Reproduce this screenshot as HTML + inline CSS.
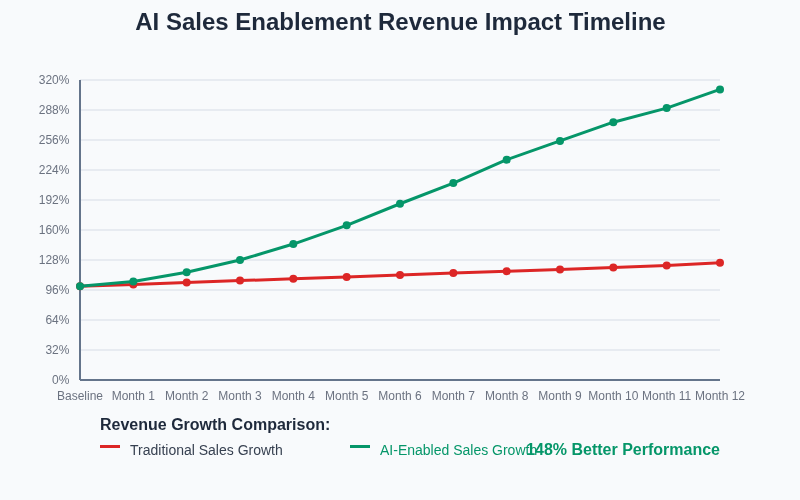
<!DOCTYPE html>
<html><head><meta charset="utf-8"><title>AI Sales Enablement Revenue Impact Timeline</title>
<style>
html,body{margin:0;padding:0;background:#f8fafc;}
svg{display:block;font-family:"Liberation Sans",sans-serif;}
</style></head><body>
<svg width="800" height="500" viewBox="0 0 800 500">
<rect width="800" height="500" fill="#f8fafc"/>
<text x="400.5" y="30" text-anchor="middle" font-size="24" font-weight="bold" fill="#1e293b">AI Sales Enablement Revenue Impact Timeline</text>

<text x="69.45" y="384" text-anchor="end" font-size="12" fill="#6b7280">0%</text>
<line x1="80" y1="350" x2="720" y2="350" stroke="#e7ebf1" stroke-width="2"/>
<text x="69.45" y="354" text-anchor="end" font-size="12" fill="#6b7280">32%</text>
<line x1="80" y1="320" x2="720" y2="320" stroke="#e7ebf1" stroke-width="2"/>
<text x="69.45" y="324" text-anchor="end" font-size="12" fill="#6b7280">64%</text>
<line x1="80" y1="290" x2="720" y2="290" stroke="#e7ebf1" stroke-width="2"/>
<text x="69.45" y="294" text-anchor="end" font-size="12" fill="#6b7280">96%</text>
<line x1="80" y1="260" x2="720" y2="260" stroke="#e7ebf1" stroke-width="2"/>
<text x="69.45" y="264" text-anchor="end" font-size="12" fill="#6b7280">128%</text>
<line x1="80" y1="230" x2="720" y2="230" stroke="#e7ebf1" stroke-width="2"/>
<text x="69.45" y="234" text-anchor="end" font-size="12" fill="#6b7280">160%</text>
<line x1="80" y1="200" x2="720" y2="200" stroke="#e7ebf1" stroke-width="2"/>
<text x="69.45" y="204" text-anchor="end" font-size="12" fill="#6b7280">192%</text>
<line x1="80" y1="170" x2="720" y2="170" stroke="#e7ebf1" stroke-width="2"/>
<text x="69.45" y="174" text-anchor="end" font-size="12" fill="#6b7280">224%</text>
<line x1="80" y1="140" x2="720" y2="140" stroke="#e7ebf1" stroke-width="2"/>
<text x="69.45" y="144" text-anchor="end" font-size="12" fill="#6b7280">256%</text>
<line x1="80" y1="110" x2="720" y2="110" stroke="#e7ebf1" stroke-width="2"/>
<text x="69.45" y="114" text-anchor="end" font-size="12" fill="#6b7280">288%</text>
<line x1="80" y1="80" x2="720" y2="80" stroke="#e7ebf1" stroke-width="2"/>
<text x="69.45" y="84" text-anchor="end" font-size="12" fill="#6b7280">320%</text>
<line x1="80" y1="380" x2="720" y2="380" stroke="#64748b" stroke-width="2"/>
<line x1="80" y1="80" x2="80" y2="380" stroke="#64748b" stroke-width="2"/>
<text x="80.00" y="400" text-anchor="middle" font-size="12" fill="#6b7280">Baseline</text>
<text x="133.33" y="400" text-anchor="middle" font-size="12" fill="#6b7280">Month 1</text>
<text x="186.67" y="400" text-anchor="middle" font-size="12" fill="#6b7280">Month 2</text>
<text x="240.00" y="400" text-anchor="middle" font-size="12" fill="#6b7280">Month 3</text>
<text x="293.33" y="400" text-anchor="middle" font-size="12" fill="#6b7280">Month 4</text>
<text x="346.67" y="400" text-anchor="middle" font-size="12" fill="#6b7280">Month 5</text>
<text x="400.00" y="400" text-anchor="middle" font-size="12" fill="#6b7280">Month 6</text>
<text x="453.33" y="400" text-anchor="middle" font-size="12" fill="#6b7280">Month 7</text>
<text x="506.67" y="400" text-anchor="middle" font-size="12" fill="#6b7280">Month 8</text>
<text x="560.00" y="400" text-anchor="middle" font-size="12" fill="#6b7280">Month 9</text>
<text x="613.33" y="400" text-anchor="middle" font-size="12" fill="#6b7280">Month 10</text>
<text x="666.67" y="400" text-anchor="middle" font-size="12" fill="#6b7280">Month 11</text>
<text x="720.00" y="400" text-anchor="middle" font-size="12" fill="#6b7280">Month 12</text>
<polyline points="80.00,286.25 133.33,284.38 186.67,282.50 240.00,280.62 293.33,278.75 346.67,276.88 400.00,275.00 453.33,273.12 506.67,271.25 560.00,269.38 613.33,267.50 666.67,265.62 720.00,262.81" fill="none" stroke="#dc2626" stroke-width="3" stroke-linejoin="round" stroke-linecap="round"/>
<circle cx="80.00" cy="286.25" r="4" fill="#dc2626"/>
<circle cx="133.33" cy="284.38" r="4" fill="#dc2626"/>
<circle cx="186.67" cy="282.50" r="4" fill="#dc2626"/>
<circle cx="240.00" cy="280.62" r="4" fill="#dc2626"/>
<circle cx="293.33" cy="278.75" r="4" fill="#dc2626"/>
<circle cx="346.67" cy="276.88" r="4" fill="#dc2626"/>
<circle cx="400.00" cy="275.00" r="4" fill="#dc2626"/>
<circle cx="453.33" cy="273.12" r="4" fill="#dc2626"/>
<circle cx="506.67" cy="271.25" r="4" fill="#dc2626"/>
<circle cx="560.00" cy="269.38" r="4" fill="#dc2626"/>
<circle cx="613.33" cy="267.50" r="4" fill="#dc2626"/>
<circle cx="666.67" cy="265.62" r="4" fill="#dc2626"/>
<circle cx="720.00" cy="262.81" r="4" fill="#dc2626"/>
<polyline points="80.00,286.25 133.33,281.56 186.67,272.19 240.00,260.00 293.33,244.06 346.67,225.31 400.00,203.75 453.33,183.12 506.67,159.69 560.00,140.94 613.33,122.19 666.67,108.12 720.00,89.38" fill="none" stroke="#059669" stroke-width="3" stroke-linejoin="round" stroke-linecap="round"/>
<circle cx="80.00" cy="286.25" r="4" fill="#059669"/>
<circle cx="133.33" cy="281.56" r="4" fill="#059669"/>
<circle cx="186.67" cy="272.19" r="4" fill="#059669"/>
<circle cx="240.00" cy="260.00" r="4" fill="#059669"/>
<circle cx="293.33" cy="244.06" r="4" fill="#059669"/>
<circle cx="346.67" cy="225.31" r="4" fill="#059669"/>
<circle cx="400.00" cy="203.75" r="4" fill="#059669"/>
<circle cx="453.33" cy="183.12" r="4" fill="#059669"/>
<circle cx="506.67" cy="159.69" r="4" fill="#059669"/>
<circle cx="560.00" cy="140.94" r="4" fill="#059669"/>
<circle cx="613.33" cy="122.19" r="4" fill="#059669"/>
<circle cx="666.67" cy="108.12" r="4" fill="#059669"/>
<circle cx="720.00" cy="89.38" r="4" fill="#059669"/>
<text x="100" y="430" font-size="16" font-weight="bold" fill="#1e293b">Revenue Growth Comparison:</text>
<rect x="100" y="445" width="20" height="3" fill="#dc2626"/>
<text x="130" y="455" font-size="14" fill="#374151">Traditional Sales Growth</text>
<rect x="350" y="445" width="20" height="3" fill="#059669"/>
<text x="380" y="455" font-size="14" fill="#059669">AI-Enabled Sales Growth</text>
<text x="720" y="455" text-anchor="end" font-size="16" font-weight="bold" fill="#059669">148% Better Performance</text>
</svg>
</body></html>
